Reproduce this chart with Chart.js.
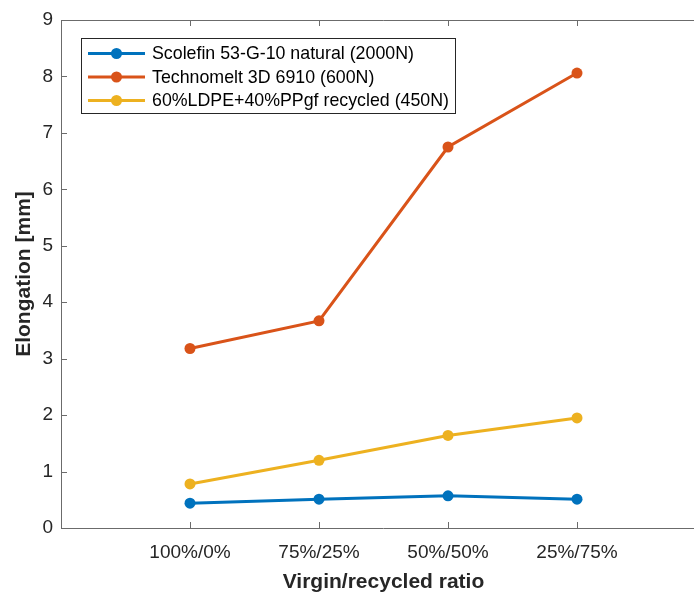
<!DOCTYPE html>
<html>
<head>
<meta charset="utf-8">
<script src="https://cdn.jsdelivr.net/npm/chart.js@4"></script>
<style>
    html, body { margin: 0; padding: 0; background: #fff; overflow: hidden; }
    #wrap { width: 720px; height: 592px; }
</style>
</head>
<body>
<div id="wrap"><canvas id="elongChart"></canvas></div>
<script>
// Dados do gráfico
const ratios = ['100%/0%', '75%/25%', '50%/50%', '25%/75%'];
const scolefin = [0.44, 0.51, 0.57, 0.51];
const technomelt = [3.18, 3.67, 6.75, 8.06];
const ldpePP = [0.78, 1.20, 1.64, 1.95];
const seriesLabels = [
    'Scolefin 53-G-10 natural (2000N)',
    'Technomelt 3D 6910 (600N)',
    '60%LDPE+40%PPgf recycled (450N)'
];
const yTicks = [0, 1, 2, 3, 4, 5, 6, 7, 8, 9];

const cores = ['#0072BD', '#D95319', '#EDB120'];
const axisColor = '#6b6b6b';
const textColor = '#262626';

function serie(label, values, color) {
    return {
        label: label,
        data: values.map((v, i) => ({ x: i + 1, y: v })),
        borderColor: color,
        backgroundColor: color,
        borderWidth: 3,
        pointRadius: 5.5,
        pointHoverRadius: 5.5,
        pointBorderWidth: 0,
        tension: 0
    };
}

// Ticks internos e borda superior (estilo MATLAB)
const eixosPlugin = {
    id: 'eixos',
    afterDraw(chart) {
        const { ctx, chartArea: a, scales } = chart;
        ctx.save();
        ctx.strokeStyle = axisColor;
        ctx.lineWidth = 1;
        ctx.beginPath();
        ctx.moveTo(a.left + 0.5, a.bottom + 0.5);
        ctx.lineTo(a.left + 0.5, a.top + 0.5);
        ctx.lineTo(a.right, a.top + 0.5);
        ctx.moveTo(a.left, a.bottom + 0.5);
        ctx.lineTo(a.right, a.bottom + 0.5);
        ratios.forEach((r, i) => {
            const x = Math.round(scales.x.getPixelForValue(i + 1)) + 0.5;
            ctx.moveTo(x, a.bottom); ctx.lineTo(x, a.bottom - 6);
            ctx.moveTo(x, a.top); ctx.lineTo(x, a.top + 6);
        });
        yTicks.forEach(v => {
            const y = Math.round(scales.y.getPixelForValue(v)) + 0.5;
            ctx.moveTo(a.left, y); ctx.lineTo(a.left + 6, y);
        });
        ctx.stroke();
        ctx.restore();
    }
};

// Legenda dentro da área do gráfico, com caixa
const legendaPlugin = {
    id: 'legendaBox',
    afterDraw(chart) {
        const { ctx, chartArea: a } = chart;
        const x0 = a.left + 20, y0 = a.top + 18;
        const w = 374, h = 75, linha = 23.5;
        ctx.save();
        ctx.fillStyle = '#fff';
        ctx.fillRect(x0, y0, w, h);
        ctx.strokeStyle = textColor;
        ctx.lineWidth = 1;
        ctx.strokeRect(x0 + 0.5, y0 + 0.5, w, h);
        ctx.font = '17.8px "Liberation Sans", Arial, sans-serif';
        ctx.textBaseline = 'middle';
        chart.data.datasets.forEach((ds, i) => {
            const y = y0 + 15.5 + i * linha;
            ctx.strokeStyle = ds.borderColor;
            ctx.lineWidth = 3;
            ctx.beginPath();
            ctx.moveTo(x0 + 7, y);
            ctx.lineTo(x0 + 64, y);
            ctx.stroke();
            ctx.fillStyle = ds.borderColor;
            ctx.beginPath();
            ctx.arc(x0 + 35.5, y, 5.5, 0, Math.PI * 2);
            ctx.fill();
            ctx.fillStyle = '#000';
            ctx.fillText(ds.label, x0 + 71, y + 1);
        });
        ctx.restore();
    }
};

const ctx = document.getElementById('elongChart').getContext('2d');
const elongChart = new Chart(ctx, {
    type: 'line',
    data: {
        datasets: [
            serie(seriesLabels[0], scolefin, cores[0]),
            serie(seriesLabels[1], technomelt, cores[1]),
            serie(seriesLabels[2], ldpePP, cores[2])
        ]
    },
    options: {
        responsive: true,
        maintainAspectRatio: false,
        animation: false,
        layout: { padding: { top: 20, right: 14, left: 0, bottom: 0 } },
        plugins: {
            legend: { display: false },
            tooltip: { enabled: false }
        },
        scales: {
            x: {
                type: 'linear',
                min: 0,
                max: 5,
                afterBuildTicks(scale) {
                    scale.ticks = ratios.map((r, i) => ({ value: i + 1 }));
                },
                afterFit(scale) { scale.height = 64; },
                grid: { display: false, drawTicks: false },
                border: { display: false },
                ticks: {
                    color: textColor,
                    font: { family: '"Liberation Sans", Arial, sans-serif', size: 19 },
                    padding: 13,
                    maxRotation: 0,
                    callback: v => ratios[v - 1]
                },
                title: {
                    display: true,
                    text: 'Virgin/recycled ratio',
                    color: textColor,
                    font: { family: '"Liberation Sans", Arial, sans-serif', size: 21, weight: 'bold' },
                    padding: { top: 0, bottom: -3 }
                }
            },
            y: {
                min: 0,
                max: 9,
                afterBuildTicks(scale) {
                    scale.ticks = yTicks.map(v => ({ value: v }));
                },
                afterFit(scale) { scale.width = 61; },
                grid: { display: false, drawTicks: false },
                border: { display: false },
                ticks: {
                    color: textColor,
                    font: { family: '"Liberation Sans", Arial, sans-serif', size: 19 },
                    padding: 8
                },
                title: {
                    display: true,
                    text: 'Elongation [mm]',
                    color: textColor,
                    font: { family: '"Liberation Sans", Arial, sans-serif', size: 21, weight: 'bold' },
                    padding: { top: 12, bottom: 0 }
                }
            }
        }
    },
    plugins: [eixosPlugin, legendaPlugin]
});
</script>
</body>
</html>
